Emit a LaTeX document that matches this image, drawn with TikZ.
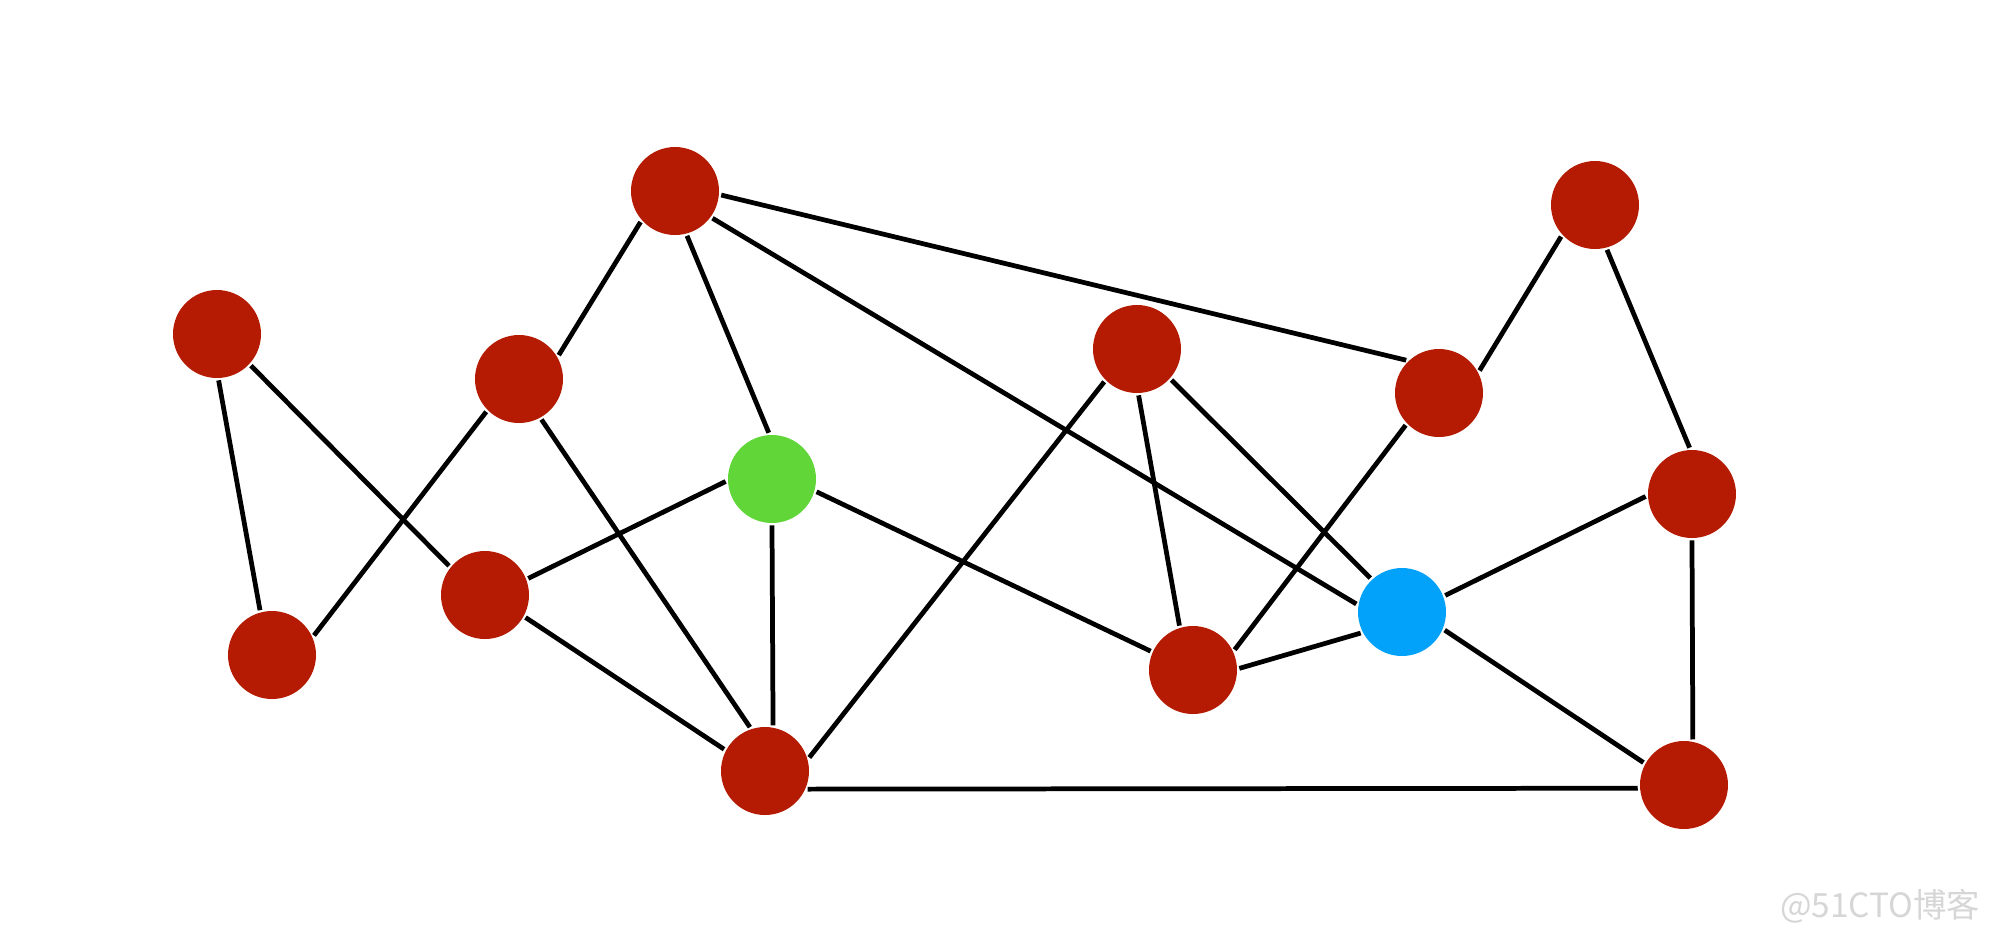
\documentclass[tikz,border=0pt]{standalone}
\usepackage{fontspec}
\newfontfamily\cjkfont{Noto Sans CJK SC}
\definecolor{nodered}{RGB}{181,26,2}
\definecolor{nodegreen}{RGB}{97,214,56}
\definecolor{nodeblue}{RGB}{3,162,250}

\begin{document}
\begin{tikzpicture}[x=0.1mm,y=-0.1mm]
    \tikzstyle{every node}=[shape=circle,minimum size=8.8mm,inner sep=0pt,fill=nodered];
    \tikzstyle{every path}=[line width=1.35pt];
    \useasboundingbox (0,0) rectangle (2000,945);
    \node at (217, 334)  (v0) {};
    \node at (272, 655)  (v1) {};
    \node at (519, 379)  (v2) {};
    \node at (485, 595)  (v3) {};
    \node at (675, 191)  (v4) {};
    \node[fill=nodegreen] at (772, 479)  (v5) {};
    \node at (765, 771)  (v6) {};
    \node at (1137, 349) (v7) {};
    \node at (1193, 670) (v8) {};
    \node at (1439, 393) (v9) {};
    \node[fill=nodeblue] at (1402, 612) (v10) {};
    \node at (1595, 205) (v11) {};
    \node at (1692, 494) (v12) {};
    \node at (1684, 785) (v13) {};

\node[shape=rectangle,fill=none,text=black!16,font=\cjkfont\fontsize{9.5}{11}\selectfont] at (1880, 906) (wm) {@51CTO博客};

    \draw (v0.-88) to (v1.105);
    \draw (v0.-43) to (v3.141);
    \draw (v1.25) to (v2.225);
    \draw (v2.31) to (v4.222);
    \draw (v2.-61) to (v6.109);
    \draw (v3.21) to (v5.183);
    \draw (v3.-29) to (v6.152);
    \draw (v4.-75) to (v5.94);
    \draw (v4.-5) to (v9.135);
    \draw (v4.-36) to (v10.170);
    \draw (v5.south) to (v6.80);
    \draw (v5.-16) to (v8.156);
    \draw (v6.17) to (v7.225);
    \draw (v6.-23) to (v13.184);
    \draw (v7.-88) to (v8.107);
    \draw (v7.-42) to (v10.133);
    \draw (v8.26) to (v9.224);
    \draw (v8.2) to (v10.207);
    \draw (v9.29) to (v11.223);
    \draw (v11.-75) to (v12.93);
    \draw (v12.183) to (v10.21);
    \draw (v12.south) to (v13.79);
    \draw (v10.-23) to (v13.151);
\end{tikzpicture}
\end{document}
